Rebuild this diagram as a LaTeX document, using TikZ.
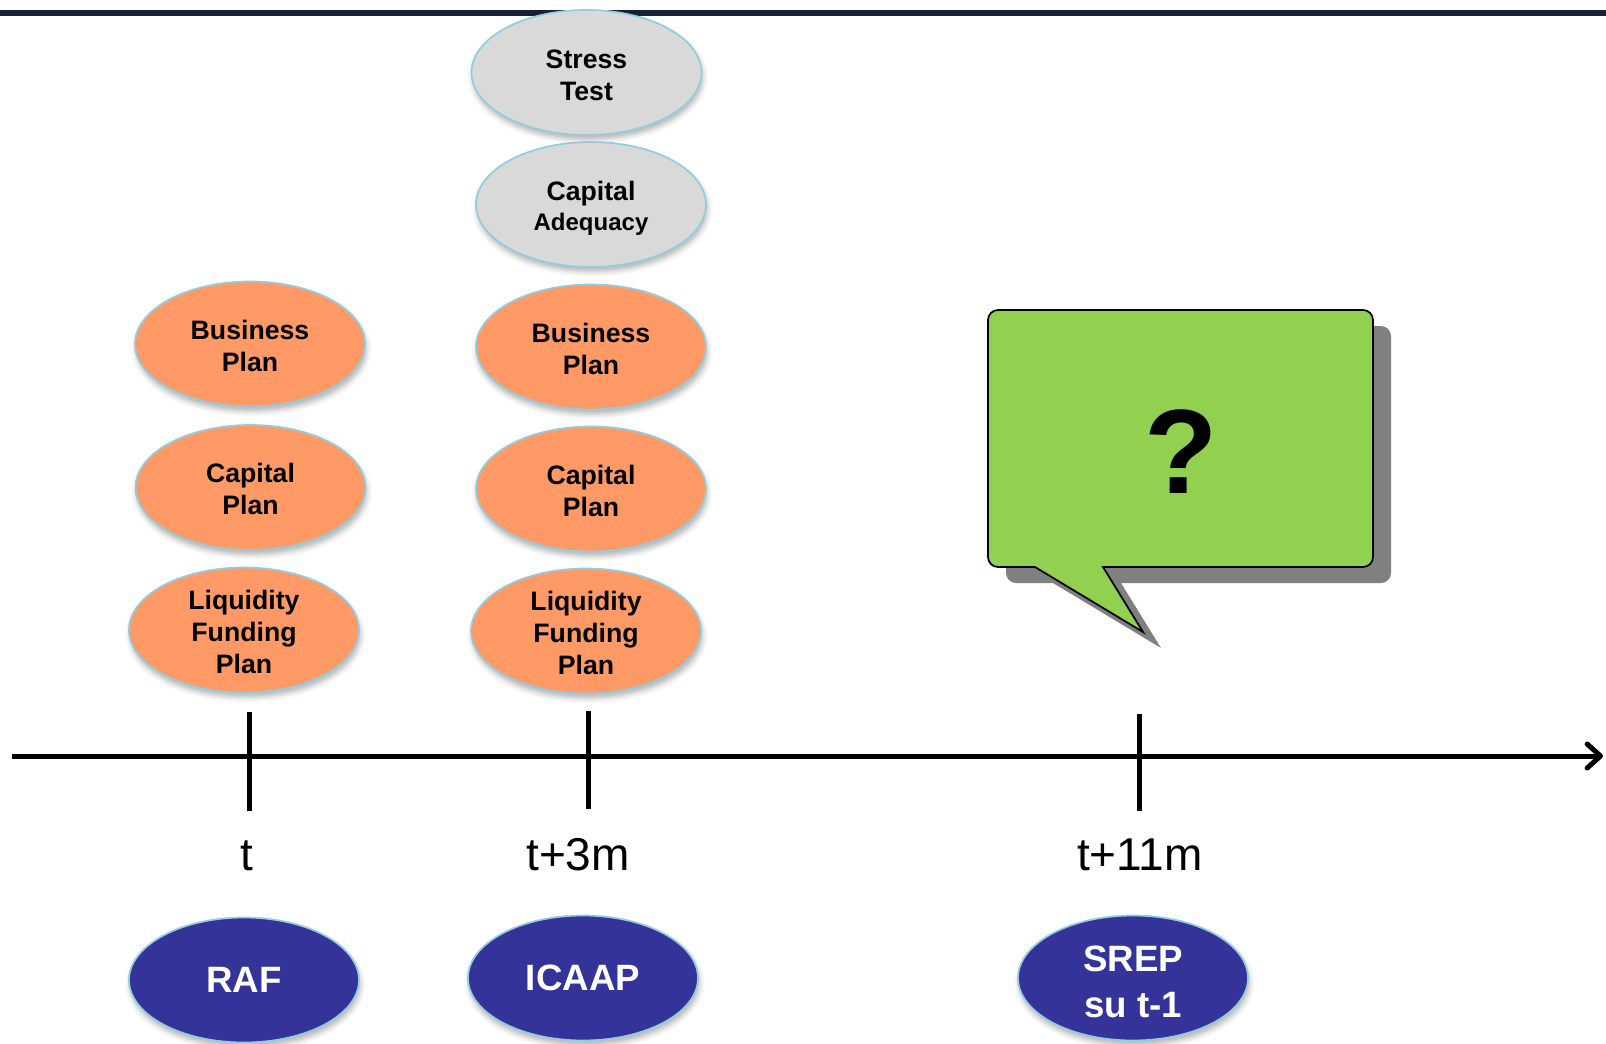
\documentclass[tikz,border=0pt]{standalone}
\usepackage{fontspec}
\setmainfont{Liberation Sans}
\usetikzlibrary{shapes.geometric,shadows.blur,arrows.meta}
\definecolor{ellorange}{HTML}{FF9966}
\definecolor{ellgray}{HTML}{D9D9D9}
\definecolor{ellnavy}{HTML}{333399}
\definecolor{ellborder}{HTML}{93CDDD}
\definecolor{topnavy}{HTML}{16203A}
\definecolor{bubblegreen}{HTML}{92D050}
\definecolor{bubbleshadow}{HTML}{808080}
\tikzset{
  ellbase/.style={ellipse, draw=ellborder, line width=1.3pt,
    minimum width=172.5pt, minimum height=93.75pt, inner sep=0pt,
    align=center,
    blur shadow={shadow xshift=1pt, shadow yshift=-3.5pt, shadow blur radius=4pt, shadow opacity=30}},
  orangeell/.style={ellbase, fill=ellorange, font=\bfseries\fontsize{20}{24}\selectfont},
  grayell/.style={ellbase, fill=ellgray, font=\bfseries\fontsize{20}{24}\selectfont},
  navyell/.style={ellbase, fill=ellnavy, text=white, font=\bfseries\fontsize{27.5}{34.5}\selectfont},
  timeaxis/.style={line width=3.75pt, -{Straight Barb[length=10pt,width=18pt,round]}},
  tickmark/.style={line width=3.75pt},
  timelabel/.style={font=\fontsize{34.5}{40}\selectfont, anchor=base, inner sep=0pt}
}
\newcommand{\toplift}[1]{\rule{0pt}{#1}}
\begin{document}
\begin{tikzpicture}[x=0.75pt,y=-0.75pt]
\useasboundingbox (0,0) rectangle (1606,1043);
% top rule
\fill[topnavy] (0,10) rectangle (1606,16);

% column t
\node[orangeell] (bp1) at (250,344) {\toplift{17pt}Business\\Plan};
\node[orangeell] (cp1) at (250.5,487.5) {\toplift{17pt}Capital\\Plan};
\node[orangeell] (lf1) at (244,630) {\toplift{17pt}Liquidity\\Funding\\Plan};

% column t+3m
\node[grayell] (st2) at (586.5,72.5) {\toplift{18pt}Stress\\Test};
\node[grayell, font=\bfseries\fontsize{20}{22.3}\selectfont] (ca2) at (591,204.5)
  {\toplift{20pt}Capital\\{\fontsize{18}{22.3}\selectfont Adequacy}};
\node[orangeell] (bp2) at (591,347) {\toplift{17pt}Business\\Plan};
\node[orangeell] (cp2) at (591,489) {\toplift{17pt}Capital\\Plan};
\node[orangeell] (lf2) at (586,631) {\toplift{17pt}Liquidity\\Funding\\Plan};

% speech bubble
\fill[bubbleshadow]
  ([shift={(18,16)}]1035,567) -- ([shift={(18,16)}]1143,632) -- ([shift={(18,16)}]1103,567)
  [rounded corners=7.5pt] -- ([shift={(18,16)}]1373,567) -- ([shift={(18,16)}]1373,310)
  -- ([shift={(18,16)}]988,310) -- ([shift={(18,16)}]988,567) [sharp corners] -- cycle;
\draw[fill=bubblegreen, draw=black, line width=1.3pt, line join=miter]
  (1035,567) -- (1143,632) -- (1103,567)
  [rounded corners=7.5pt] -- (1373,567) -- (1373,310) -- (988,310) -- (988,567)
  [sharp corners] -- cycle;
\node[font=\bfseries\fontsize{90}{94}\selectfont, inner sep=0pt] (q) at (1181,452) {?};

% timeline
\coordinate (axL) at (12,756);
\coordinate (axR) at (1603,756);
\draw[timeaxis] (axL) -- (axR);
\coordinate (k1a) at (249,712); \coordinate (k1b) at (249,811);
\coordinate (k2a) at (588,711); \coordinate (k2b) at (588,809);
\coordinate (k3a) at (1139,714); \coordinate (k3b) at (1139,811);
\draw[tickmark] (k1a) -- (k1b);
\draw[tickmark] (k2a) -- (k2b);
\draw[tickmark] (k3a) -- (k3b);

\node[timelabel] (l1) at (247,870) {t};
\node[timelabel] (l2) at (578,870) {t+3m};
\node[timelabel] (l3) at (1140,870) {t+11m};

% bottom ellipses
\node[navyell] (raf) at (244,980) {RAF};
\node[navyell] (icaap) at (583,978) {ICAAP};
\node[navyell] (srep) at (1133,978) {\toplift{25pt}SREP\\su t-1};
\end{tikzpicture}
\end{document}
